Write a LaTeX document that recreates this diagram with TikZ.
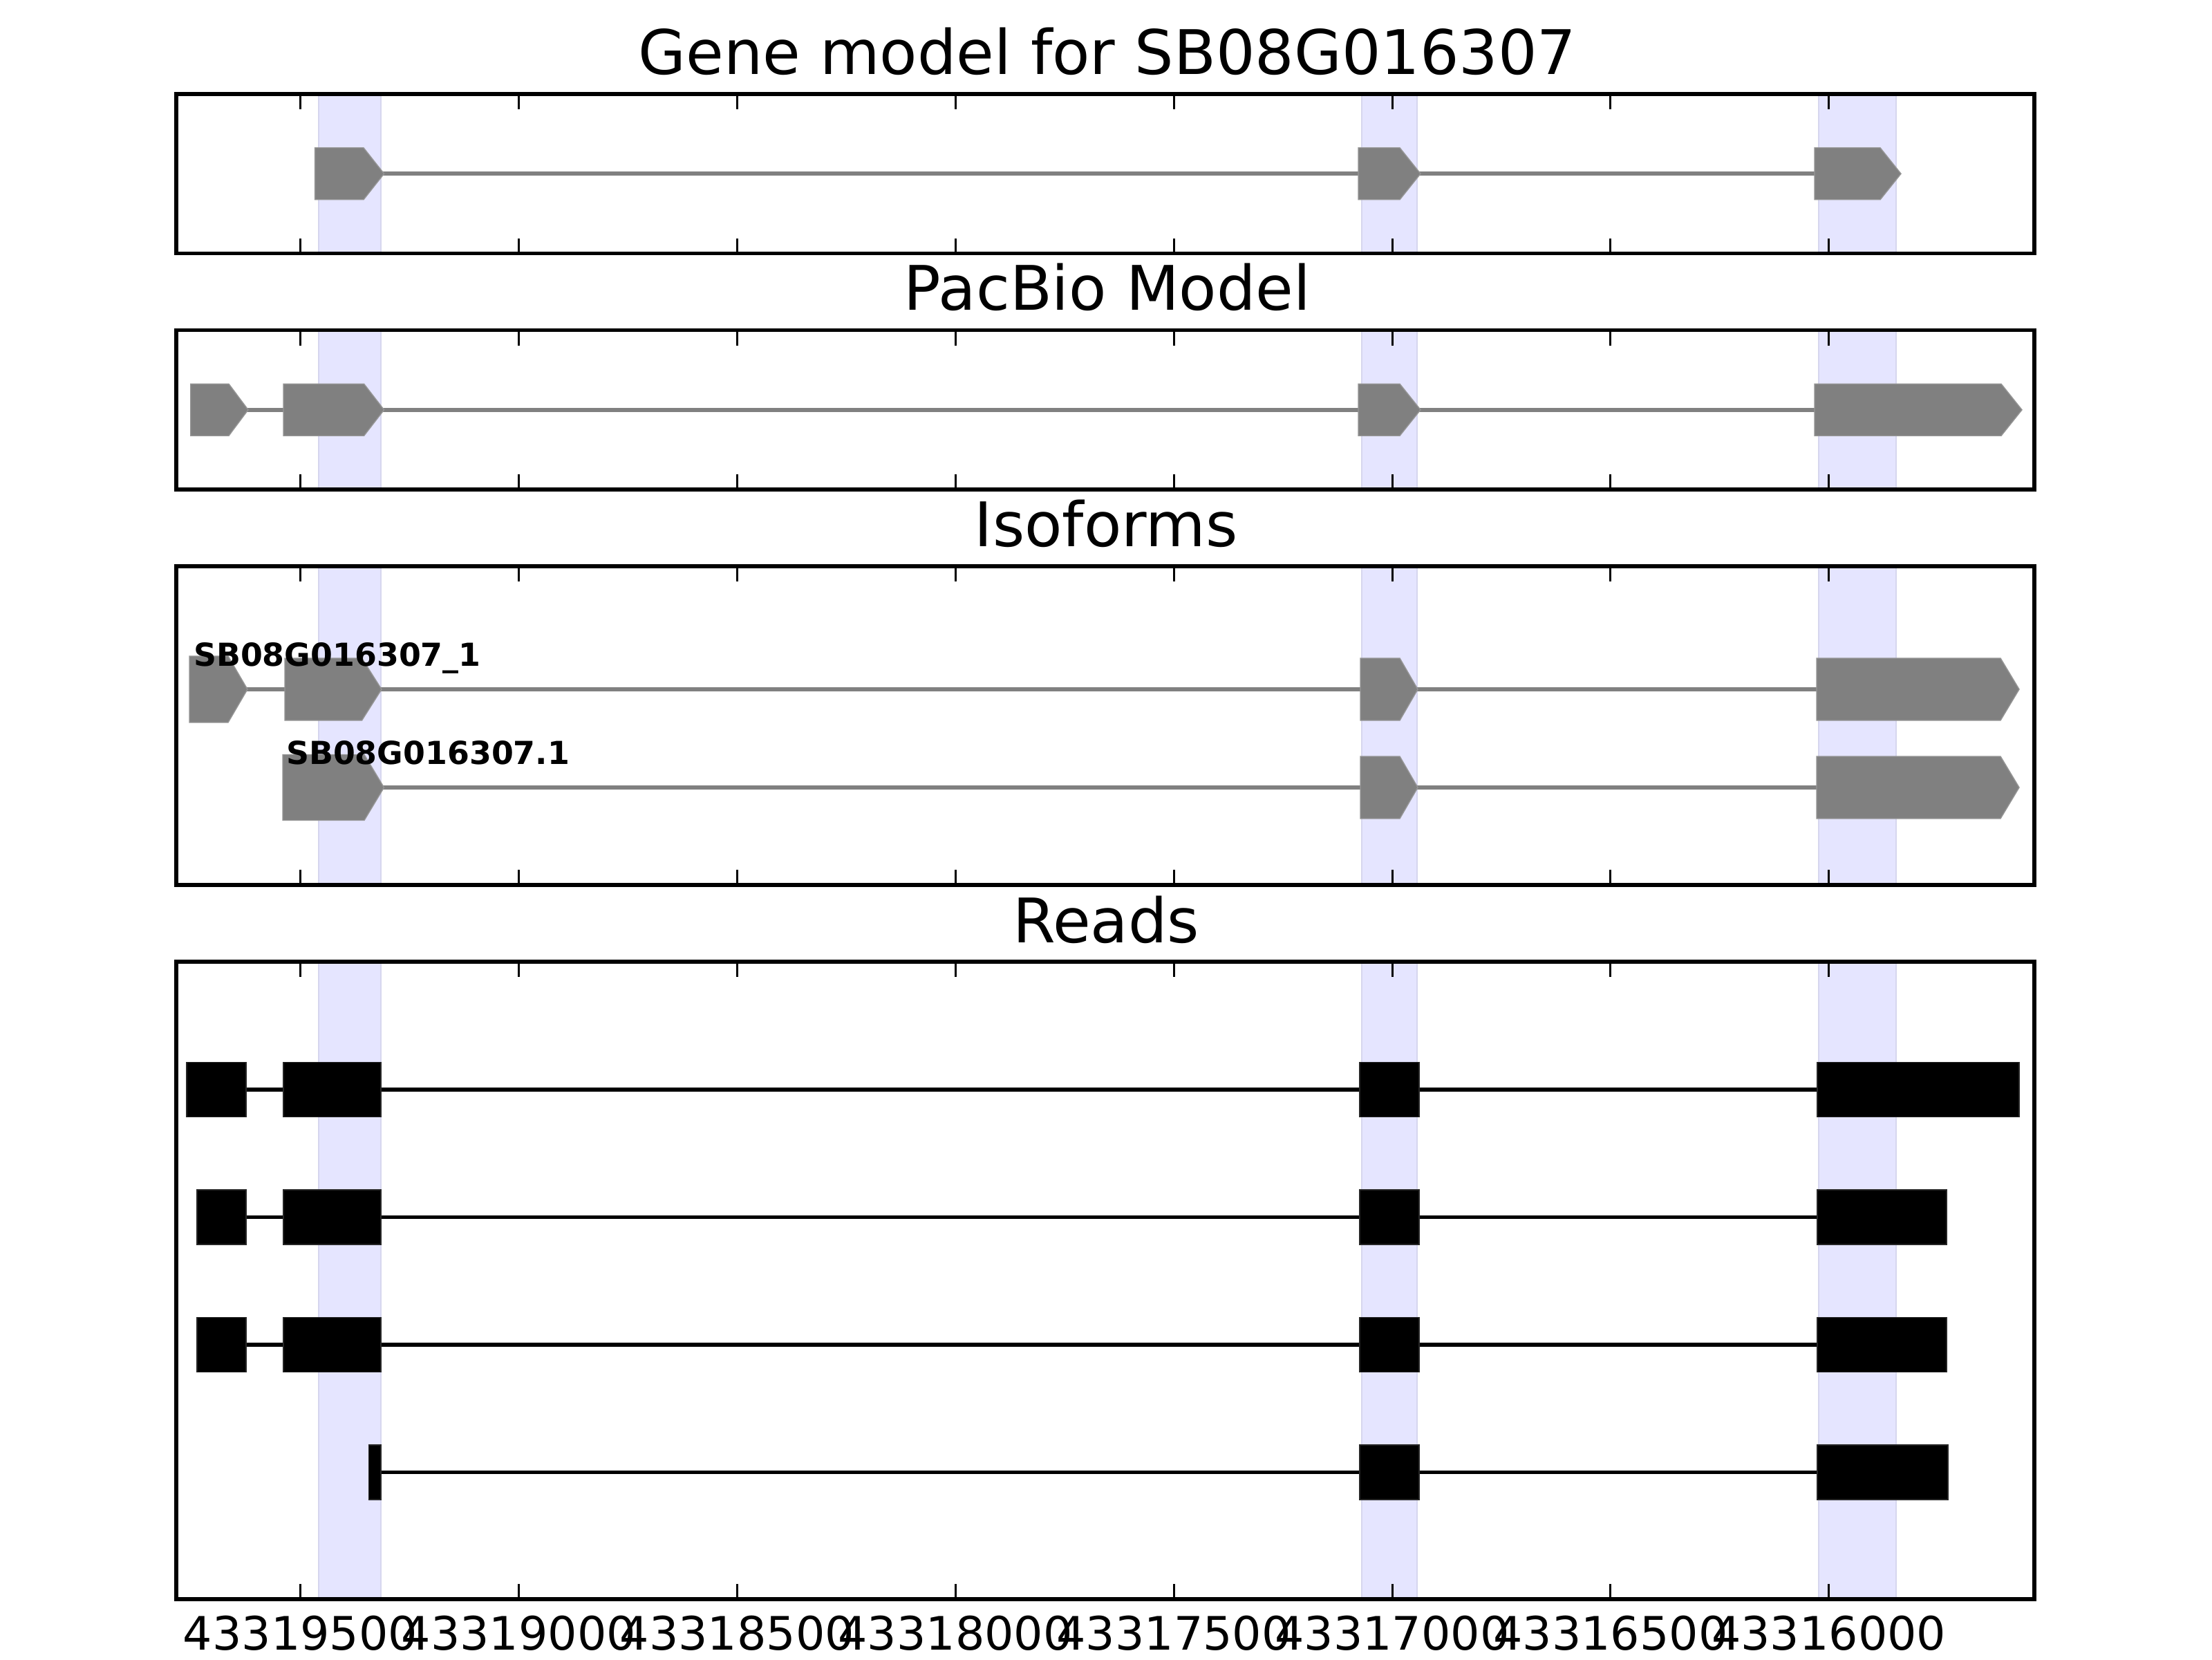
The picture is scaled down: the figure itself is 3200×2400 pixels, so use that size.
\documentclass[tikz,border=0pt]{standalone}
\usepackage{fontspec}
\setmainfont{DejaVu Sans}
\definecolor{exongray}{RGB}{128,128,128}
\definecolor{exonedge}{RGB}{150,150,150}
\definecolor{bandblue}{RGB}{229,229,255}
\definecolor{bandedge}{RGB}{214,214,238}
\tikzset{
  frame/.style={draw=black, line width=1pt},
  band/.style={fill=bandblue, draw=bandedge, line width=0.35pt},
  intron/.style={draw=exongray, line width=1pt},
  readline/.style={draw=black, line width=1pt},
  exon/.style={fill=exongray, draw=exonedge, line width=0.25pt},
  readblock/.style={fill=black, draw=black!85!white, line width=0.25pt},
  tickmark/.style={draw=black, line width=0.55pt},
  ttl/.style={font=\fontsize{16}{19}\selectfont, anchor=base, inner sep=0pt},
  ticklabel/.style={font=\fontsize{12}{14}\selectfont, anchor=base, inner sep=0pt},
  isolabel/.style={font=\bfseries\fontsize{8.25}{10}\selectfont, anchor=base west, inner sep=0pt},
}
% #1 left, #2 end of rectangle, #3 tip, #4 centre y, #5 half height
\newcommand\arrowexon[5]{\path[exon] (#1,{#4-#5}) -- (#2,{#4-#5}) -- (#3,#4) -- (#2,{#4+#5}) -- (#1,{#4+#5}) -- cycle;}
% #1 left, #2 right, #3 centre y
\newcommand\rblock[3]{\path[readblock] (#1,{#3-39.5}) rectangle (#2,{#3+39.5});}
\begin{document}
\begin{tikzpicture}[x=0.18pt,y=-0.18pt]
\useasboundingbox (0,0) rectangle (3200,2400);
\fill[white] (0,0) rectangle (3200,2400);

% highlight bands
\foreach \t/\b in {136/366.5, 477.5/708, 819/1280, 1391/2313}{
  \path[band] (461,\t) rectangle (551,\b);
  \path[band] (1970,\t) rectangle (2050,\b);
  \path[band] (2631,\t) rectangle (2743,\b);
}

% titles
\node[ttl] (title1) at (1602,107) {Gene model for SB08G016307};
\node[ttl] (title2) at (1602,448.5) {PacBio Model};
\node[ttl] (title3) at (1600,790) {Isoforms};
\node[ttl] (title4) at (1600,1363) {Reads};

% Gene model panel
\draw[intron] (540,251.25) -- (2640,251.25);
\arrowexon{455.6}{526}{555.6}{251.25}{37.5}
\arrowexon{1965}{2025}{2055}{251.25}{37.5}
\arrowexon{2625}{2720}{2750}{251.25}{37.5}

% PacBio panel
\draw[intron] (340,592.75) -- (2640,592.75);
\arrowexon{275.7}{331}{359}{592.75}{37.5}
\arrowexon{410}{526.6}{555.6}{592.75}{37.5}
\arrowexon{1965}{2025}{2055}{592.75}{37.5}
\arrowexon{2625}{2895}{2925}{592.75}{37.5}

% Isoforms panel
\draw[intron] (340,997) -- (2640,997);
\arrowexon{274}{330}{358}{997}{48}
\arrowexon{412}{523.5}{552}{997}{45}
\arrowexon{1968}{2025}{2051}{997}{45}
\arrowexon{2628}{2894}{2921}{997}{45}
\draw[intron] (540,1139) -- (2640,1139);
\arrowexon{409}{527}{555.5}{1139}{47.5}
\arrowexon{1968}{2025}{2051}{1139}{45}
\arrowexon{2628}{2894}{2921}{1139}{45}
\node[isolabel] (iso1) at (279,963) {SB08G016307\_1};
\node[isolabel] (iso2) at (413,1105) {SB08G016307.1};

% Reads panel
\draw[readline] (300,1576) -- (2700,1576);
\rblock{270}{356}{1576}
\rblock{410}{551}{1576}
\rblock{1967}{2053}{1576}
\rblock{2629}{2921}{1576}
\foreach \yy in {1760.5,1945}{
  \draw[readline] (300,\yy) -- (2700,\yy);
  \rblock{285}{356}{\yy}
  \rblock{410}{551}{\yy}
  \rblock{1967}{2053}{\yy}
  \rblock{2629}{2816}{\yy}
}
\draw[readline] (540,2129.5) -- (2700,2129.5);
\rblock{533.5}{551}{2129.5}
\rblock{1967}{2053}{2129.5}
\rblock{2629}{2818}{2129.5}

% ticks and frames
\foreach \t/\b in {136/366.5, 477.5/708, 819/1280, 1391/2313}{
  \foreach \k in {0,...,7}{
    \draw[tickmark] ({434.5+315.9*\k},\t) -- ++(0,22);
    \draw[tickmark] ({434.5+315.9*\k},\b) -- ++(0,-22);
  }
  \path[frame] (255,\t) rectangle (2943,\b);
}

% tick labels
\foreach \k/\lab in {0/43319500,1/43319000,2/43318500,3/43318000,4/43317500,5/43317000,6/43316500,7/43316000}{
  \node[ticklabel] (tl\k) at ({434.5+315.9*\k},2386) {\lab};
}
\end{tikzpicture}
\end{document}
